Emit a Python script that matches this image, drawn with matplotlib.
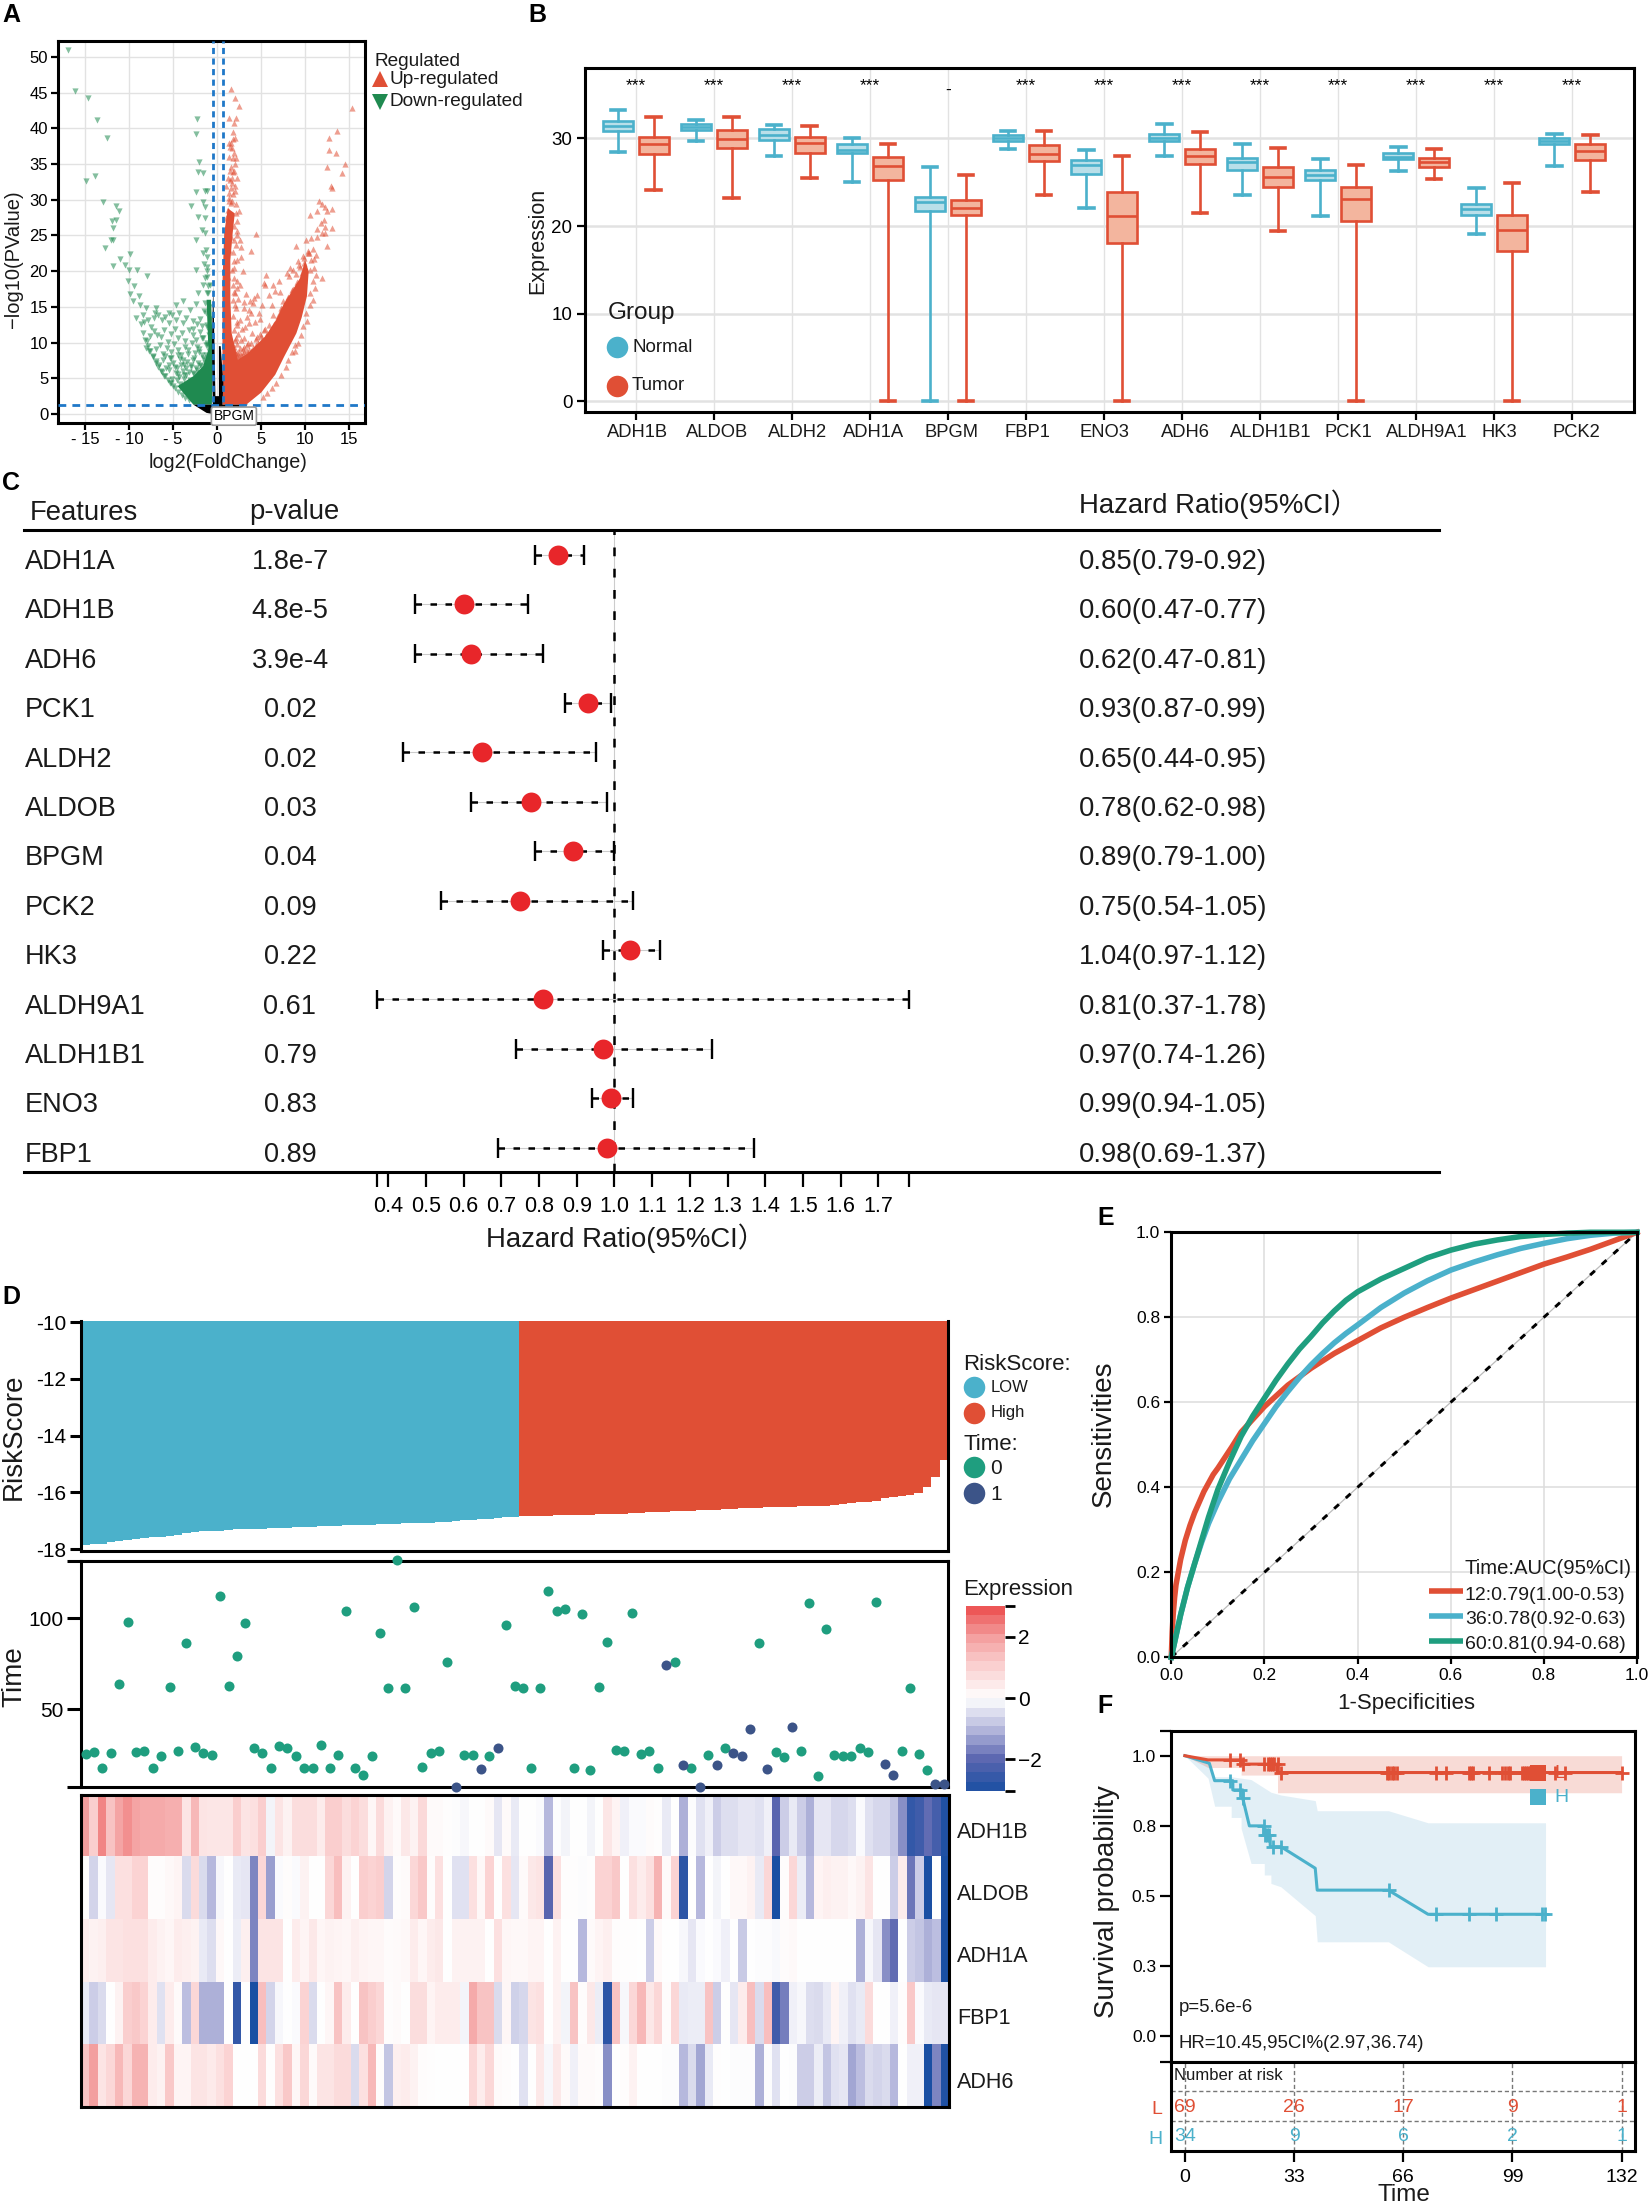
import matplotlib
matplotlib.use("Agg")
import matplotlib.pyplot as plt
import numpy as np
from matplotlib.colors import LinearSegmentedColormap
from matplotlib.lines import Line2D

plt.rcParams["font.family"] = ["Liberation Sans", "Noto Sans CJK SC"]

W, H = 1649, 2204
RED = "#e04f35"
BLUE = "#4bb1cb"
GREEN = "#1f9e7f"
NAVY = "#3c5488"
GRID = "#e2e2e2"

# --- panel A: volcano, single points, dense cores as outlines
up_x = [1.57,2.08,2.47,1.3,2.15,1.9,1.8,1.85,1.6,1.5,1.95,1.4,1.75,2.05,1.6,1.9,1.7,1.45,2.0,1.55,1.8,1.3,1.65,2.1,1.2,2.5,1.0,1.4,1.9,2.3,1.1,1.55,2.55,2.75,3.8,2.75,2.3,1.35,1.9,2.9,1.2,2.2,2.6,
        15.35,13.6,12.7,12.7,13.55,14.5,12.45,14.2,12.9,13.1,11.55,11.95,12.3,13,12.5,10.5,11.3,12.1,11.75,12.3,13,11.3,11.95,12.3,10.1,10.7,11.3,4.4,9,12.5,11.95,5.6,5.3,5.4,4.5,3.7,5.1,8.9,
        3.6,4.1,4.8,5.9,6.2,6.6,7.1,7.5,8.2,8.6,9.2,9.8,10.3,10.9,11.2,10.6,9.7,9.0,8.5,8.1,7.7,7.3,6.9,6.5,6.1,5.7,5.2,4.7,4.2,3.8,3.3,2.9,2.5,2.1,1.8,
        2.2,2.6,3.0,3.4,3.9,4.3,4.9,5.3,2.4,2.8,3.2,3.6,4.0,4.5,5.0,2.0,2.3,2.7,3.1,3.5,4.4,1.9,2.2,2.6,3.0,3.4,1.8,2.1,2.5,2.9,2.0,2.4,3.3,4.2,1.9,2.3,3.1,6.4,7.0,7.9,8.3,9.4,9.9,10.4,11.0]
up_y = [45.5,44.3,43.2,41.5,41.5,40.8,39.5,38.5,38,37.4,36.6,36,35.8,35,34.6,34,33,32.8,32,31.7,30.8,30.2,29.8,29.4,28.6,28.5,27.5,27.2,26.4,25,26,24.8,24.4,23.4,22.8,22,21.5,23,20.5,20,19.2,18.6,18,
        42.9,39.6,38.6,37,36.5,35,34.6,33.7,31.9,31.6,29.8,29.4,29,28.7,28.5,27.9,28.4,27.2,26.7,26.2,26.1,25.9,25.3,25.3,24.4,24.6,24.8,25.2,23.5,23.5,19.1,19.5,18.3,18,16.7,15.8,15.2,8.8,
        14.6,15.5,14.2,16.6,15.2,17.2,17.1,15.8,19.3,20.2,21.4,22.1,22.8,23.1,22.2,20.1,18.8,17.9,17.4,16.2,15.3,14.5,13.7,12.6,11.9,11.2,10.4,9.7,8.9,8.1,7.4,7.1,6.8,6.2,5.8,
        12.4,13.1,14.8,13.6,14.1,12.9,13.3,11.8,11.2,11.9,12.2,12.7,11.4,10.8,10.9,10.4,9.8,10.3,10.6,9.9,9.6,8.9,8.6,9.2,9.4,8.8,7.9,7.4,8.1,8.4,15.2,16.1,16.8,16.2,17.1,17.6,15.7,18.1,18.6,19.8,20.4,20.6,21.1,22.6,21.7]
up_fringe_x = [9.9,10.3,10.7,11,11.2,10.9,11.1,10.6,10.9,10.5,10.1,10.2,9.8,9.5,9.2,8.9,8.5,8.1,7.8,7.2,6.7,6.2,5.7,5.2,
               9.1,8.6,8.0,7.2,6.4,5.9,5.4,4.9,4.4,3.9,3.4,2.9,2.5,2.1,1.9,2.1,1.9,2.2,1.8,2.1,1.8,2.0,1.75,1.9,1.7,1.95,1.8,2.1,1.9,2.2,2.3,2.1,
               1.6,1.3,1.0,1.2,1.5,2.0,1.7,2.2,2.1,1.4,1.7,2.0,1.8,1.35,
               9.6,9.3,9.9,9.0,8.7,8.4,7.5,6.8,6.2,5.6,5.1,4.6,4.1,3.6,3.1,2.7,2.3,2.6,3.0,3.5,3.9,4.4,4.8,5.2,5.6,6.0,6.3,6.8,7.4]
up_fringe_y = [21.8,22.5,21.5,20.5,19.4,18.6,17.6,17,16,15.2,14.2,13,12.3,11,10,9.6,8.7,7.5,6.6,5.4,4.4,3.6,2.9,2.4,
               18.5,17.5,16.4,14.9,13.9,12.4,11.9,11.2,10.5,10,9.6,9.1,8.7,8.4,9.4,10.6,11.8,12.9,13.7,14.9,16,17,18,19.1,20.2,21.4,22.7,23.6,24.4,25.6,27,28.2,
               29.5,31,32,33,34,31.3,32.4,33,35.8,38,37.2,38.6,33.9,29.9,
               19.8,20.9,18.7,19.6,16.3,15.7,14.4,12.8,11.6,10.9,10.3,9.9,9.3,9.0,8.7,8.3,8.0,7.6,7.9,8.4,8.8,9.2,9.5,10.1,10.6,11.1,11.8,12.3,13.1]
up_core_x = [0.6,3.3,5,6.6,7.6,9,9.6,10.2,10.4,10,9.4,8.4,7.6,6.7,5.5,3.5,2.35,1.65,1.5,1.5,1.76,2,1.2,0.8,0.6,0.6]
up_core_y = [1.3,1.3,3,5.5,8,11.3,13.5,16.5,20,21.5,19,17,15.5,13.2,10.9,8.5,7.6,11.3,16,21.6,25.3,28.1,28.8,25.3,18.3,11]

down_x = [-17,-16.2,-14.7,-13.6,-12.5,-13.9,-14.9,-13,-11.5,-11.1,-11.5,-12,-11.8,-12.1,-11.8,-12.7,-9.9,-11,-11.8,-10.5,-10,-9.1,-8,-10.1,-9.5,-9.9,-8.9,-9.6,-8.8,-8.1,-6.9,-8.4,-7.2,-5.5,-4.7,-3.9,-2.35,
          -2.3,-2.4,-2.1,-2.15,-1.6,-2.35,-1.4,-1.2,-1.6,-3,-1.4,-2.15,-1.4,-2.35,-1.76,-1.37,-1.57,-1.2,-1.2,-2.35,-1.2,-1.0,-1.2,-2.15,-1.6,
          -9.2,-8.7,-8.3,-7.9,-7.5,-7.1,-6.7,-6.3,-5.9,-5.5,-5.1,-4.7,-4.3,-3.9,-3.5,-3.1,-2.7,-2.3,-1.9,-1.5,
          -8.4,-8.0,-7.6,-7.2,-6.8,-6.4,-6.0,-5.6,-5.2,-4.8,-4.4,-4.0,-3.6,-3.2,-2.8,-2.4,-2.0,-1.6,-1.2,
          -8.1,-7.7,-7.3,-6.9,-6.5,-6.1,-5.7,-5.3,-4.9,-4.5,-4.1,-3.7,-3.3,-2.9,-2.5,-2.1,-1.7,-1.3,
          -7.0,-6.6,-6.2,-5.8,-5.4,-5.0,-4.6,-4.2,-3.8,-3.4,-3.0,-2.6,-2.2,-1.8,-1.4,
          -6.3,-5.9,-5.5,-5.1,-4.7,-4.3,-3.9,-3.5,-3.1,-2.7,-2.3,-1.9,-1.5,-5.4,-5.0,-4.6,-4.2,-3.8,-3.4,-3.0,-2.6,-2.2,-1.8]
down_y = [51,45.2,44.2,41.2,38.7,33.3,32.7,29.7,29.2,28.5,27.2,27,26,24.4,24.3,23.3,22.4,21.7,20.7,20.9,20.1,20.1,19.3,18.6,17.9,16.8,16.5,15.8,15.3,14.8,14.8,13.9,13.4,14.2,15.3,15.8,15.4,
          41.3,39.2,35.3,33.9,33.7,31.1,31.3,31.3,29.7,29.2,29,27.6,27.5,24.4,25.8,25.3,22.5,22,20.6,20.1,19.2,17.9,16.9,16.9,18.1,
          13.4,12.6,12.9,13.1,12.2,14.1,13.8,13.2,13.6,12.7,13.9,13.1,14.1,12.8,13.4,14.6,13.0,12.6,13.3,14.4,
          11.4,10.2,10.9,11.6,11.1,10.8,11.7,10.1,11.2,11.9,10.6,11.3,10.2,11.8,11.1,10.4,11.5,10.7,12.2,
          9.3,8.8,8.1,9.1,9.6,8.4,9.2,8.7,9.8,9.0,8.3,9.4,8.9,9.9,8.5,9.1,8.2,9.6,
          7.4,6.9,7.6,6.5,7.8,7.1,6.4,7.7,6.8,7.3,6.6,7.9,7.2,6.7,7.5,
          5.9,5.3,6.1,4.9,5.7,5.2,6.0,5.5,4.8,5.8,6.2,5.1,5.6,4.4,3.9,4.7,4.2,4.9,3.8,4.5,4.1,4.6,3.6]
down_fringe_x = [-8.2,-7.9,-7.6,-7.3,-7,-6.7,-6.4,-6,-5.6,-5.2,-4.8,-4.4,-4,-3.6,-3.2,
                 -5.9,-5.2,-4.5,-3.9,-3.3,-2.7,-2.1,-1.6,-5.5,-4.8,-4.1,-3.5,-3,-2.4,-1.9,-1.4,-4.4,-3.8,-3.2,-2.6,-2,-1.5,
                 -0.9,-1.1,-0.8,-1.3,-0.9,-1.4,-1,-0.8,-1.4,-1.1,-1.5,-1.3,-2.8,-2.3,-1.7,-1.2,-1.7,-1.1,-0.9,-1.3,-1.0]
down_fringe_y = [10.3,9.5,8.8,8,7.2,6.6,6,5.3,4.8,4.3,3.6,3.1,2.6,2.2,1.9,
                 8.1,7.8,8.2,7.5,8.4,7.6,8.7,7.9,6.9,6.6,6.9,6.4,6.8,6.5,6.9,7.2,5.6,5.5,5.9,5.6,5.8,5.4,
                 11,12.5,13.3,14.2,15,15.6,17,18,19,20,21,23,11.9,9.4,10.6,10,12.3,9.6,8.8,8.2,7.6]
down_core_x = [-4.5,-2.7,-0.6,-0.5,-0.7,-1.2,-1,-1.6,-2.7]
down_core_y = [3.9,1.3,1.3,9.5,16,16,9,6.7,5.3]

ns_core_x = [-2.7,-1.2,0,1.6,3.5,0.6,0.7,0.4,0.2,0.2,-0.2,-0.3,-0.45,-0.6,-0.5]
ns_core_y = [1.3,0.15,-0.1,0.15,1.3,1.3,4.3,9.5,9.5,2.5,2.5,9.5,18,9.5,1.3]

# --- panel B: boxplot five-number summaries (low, q1, med, q3, high)
genes_b = ["ADH1B","ALDOB","ALDH2","ADH1A","BPGM","FBP1","ENO3","ADH6","ALDH1B1","PCK1","ALDH9A1","HK3","PCK2"]
normal_box = [[28.5,30.8,31.4,32.0,33.2],[29.7,31.0,31.3,31.6,32.1],[28.0,29.8,30.4,31.1,31.5],[25.0,28.3,28.7,29.4,30.1],
              [0,21.7,22.8,23.3,26.7],[28.8,29.7,30.1,30.4,30.8],[22.1,25.9,27.0,27.5,28.7],[28.0,29.7,30.1,30.5,31.6],
              [23.5,26.4,27.3,27.8,29.4],[21.1,25.2,25.8,26.4,27.6],[26.3,27.6,27.9,28.3,29.0],[19.1,21.3,21.9,22.5,24.3],[26.8,29.4,29.7,30.0,30.5]]
tumor_box = [[24.1,28.2,29.4,30.2,32.5],[23.2,28.9,29.9,31.0,32.4],[25.5,28.3,29.5,30.2,31.4],[0,25.3,26.9,27.9,29.4],
             [0,21.3,22.1,23.0,25.8],[23.5,27.4,28.2,29.2,30.8],[0,18.1,21.2,23.9,28.0],[21.5,27.1,28.0,28.8,30.7],
             [19.4,24.4,25.6,26.7,28.9],[0,20.6,23.1,24.4,27.0],[25.4,26.7,27.3,27.8,28.8],[0,17.2,19.5,21.3,24.9],[23.9,27.5,28.6,29.4,30.4]]
signif = ["***","***","***","***","-","***","***","***","***","***","***","***","***"]
label_nudge = [0.02,0.04,0.07,0.04,0.05,0.02,0,0.04,0.14,0.13,0.14,0.07,0.05]

# --- panel C: Cox forest
features = ["ADH1A","ADH1B","ADH6","PCK1","ALDH2","ALDOB","BPGM","PCK2","HK3","ALDH9A1","ALDH1B1","ENO3","FBP1"]
pvalues = ["1.8e-7","4.8e-5","3.9e-4","0.02","0.02","0.03","0.04","0.09","0.22","0.61","0.79","0.83","0.89"]
hr = [0.85,0.60,0.62,0.93,0.65,0.78,0.89,0.75,1.04,0.81,0.97,0.99,0.98]
hr_low = [0.79,0.47,0.47,0.87,0.44,0.62,0.79,0.54,0.97,0.37,0.74,0.94,0.69]
hr_high = [0.92,0.77,0.81,0.99,0.95,0.98,1.00,1.05,1.12,1.78,1.26,1.05,1.37]
hr_ticks = [0.37,0.4,0.5,0.6,0.7,0.8,0.9,1.0,1.1,1.2,1.3,1.4,1.5,1.6,1.7,1.78]
hr_ticklabels = ["","0.4","0.5","0.6","0.7","0.8","0.9","1.0","1.1","1.2","1.3","1.4","1.5","1.6","1.7",""]

# --- panel D: risk score, survival time, status, expression
risk_low = [-17.85,-17.83,-17.80,-17.73,-17.70,-17.66,-17.63,-17.60,-17.58,-17.55,-17.52,-17.50,-17.43,-17.38,-17.36,-17.35,-17.34,-17.32,-17.30,-17.29,
            -17.28,-17.27,-17.26,-17.25,-17.24,-17.23,-17.21,-17.20,-17.19,-17.18,-17.17,-17.16,-17.15,-17.14,-17.13,-17.12,-17.11,-17.10,-17.09,-17.08,
            -17.07,-17.06,-17.05,-17.03,-17.01,-16.98,-16.96,-16.94,-16.92,-16.90,-16.88,-16.86]
risk_high = [-16.84,-16.83,-16.83,-16.82,-16.81,-16.81,-16.80,-16.79,-16.78,-16.76,-16.75,-16.75,-16.74,-16.73,-16.72,-16.70,-16.69,-16.67,-16.66,-16.65,
             -16.64,-16.63,-16.62,-16.60,-16.59,-16.57,-16.55,-16.54,-16.53,-16.52,-16.51,-16.50,-16.50,-16.49,-16.48,-16.47,-16.46,-16.43,-16.41,-16.38,
             -16.35,-16.32,-16.30,-16.20,-16.16,-16.13,-16.10,-16.03,-15.82,-15.46,-14.87]
surv_time = [25.5,26.4,17.4,25.6,63.6,98,26.6,27.1,17.6,24.4,62,26.7,86,28.9,25.6,24.5,112,62.6,79,97,
             28.8,25.6,17.4,29.5,28.4,24.4,17.8,17.8,30,17.8,24.7,104,17.4,13.6,24.4,92,61.4,132,61.5,106,
             18,25.8,26.7,76,7,24.5,24.7,17,24.4,28.8,96,62.5,61.7,17.6,61.7,115,104,105,17.8,102,
             16.7,62,87,27.5,26.7,103,25.5,26.7,17.6,74,76,19,17.8,7,24.5,19,28.8,26,24,39,
             86,17,26.6,23.8,40,26.7,108,13.4,94,24.5,24.4,24.4,28.8,26.6,109,20,14,26.8,61.5,25,16.5,9,9]
surv_status = [0,0,0,0,0,0,0,0,0,0,0,0,0,0,0,0,0,0,0,0,
               0,0,0,0,0,0,0,0,0,0,0,0,0,0,0,0,0,0,0,0,
               0,0,0,0,1,0,0,1,0,1,0,0,0,0,0,0,0,0,0,0,
               0,0,0,0,0,0,0,0,0,1,0,1,0,1,0,1,0,1,1,1,
               0,1,0,0,1,0,0,0,0,0,0,0,0,0,0,1,1,0,0,0,0,1,1]

heat_genes = ["ADH1B","ALDOB","ADH1A","FBP1","ADH6"]
adh1b = [2.0,1.1,2.3,1.3,1.9,2.2,1.9,1.8,1.8,1.8,1.7,1.7,
         0.6,1.5,0.6,0.55,0.55,0.55,1.1,0.6,0.7,1.1,
         -0.15,0.6,0.3,0.75,0.75,0.75,0.4,1.1,1.1,0.75,
         1.0,0.75,0.2,0.8,0.3,0.1,0.5,0.3,0.85,0.1,
         0.1,0.03,-0.03,-0.1,0,0,0.1,-0.35,0.1,-0.3,
         0,0,-0.05,-1.0,-0.03,-0.15,0,0,-0.15,0,
         0.55,0.25,-0.2,-0.07,-0.05,0.08,0.04,-0.3,0,-1.1,
         -0.03,-0.4,-0.2,-0.7,-0.45,-0.45,-0.35,-0.35,-0.4,-0.2,
         -2.0,-0.7,-0.3,-0.7,-1.1,-0.35,-0.35,-0.55,-0.55,-0.45,
         -0.05,-0.4,-0.55,-0.55,-0.8,-1.5,-2.6,-2.4,-1.9,-2.3,-2.9]
aldob = [0.05,-0.6,-0.05,-0.35,0.7,0.7,1.0,1.0,0.05,0.05,0.15,0.25,
         -0.5,0.8,-0.5,-1.0,-0.1,0,-0.3,-0.35,-1.6,0.9,
         -1.3,-0.05,0.05,-0.05,0.3,0,0,0.9,1.4,0.3,
         0,1.1,1.0,1.1,-0.6,0.05,0.1,0.9,1.2,0.05,
         0.7,0,-0.4,-0.4,0.7,0.15,1.0,0,0.7,-0.35,
         0.1,0.5,0.6,-2.0,0.7,0.03,0.03,-0.03,0.03,1.0,
         1.0,1.2,0,0.7,0.4,0.7,1.6,0.1,1.0,-2.7,
         0,-1.0,0,-0.15,0,0.15,0.15,0.3,-0.3,0.9,
         -3,0.05,0.9,-0.25,-1.0,0.25,0.35,0.3,0.3,0.15,
         0.3,0.6,0,0,-0.7,0.4,-1.8,-0.7,-3,0,-3]
adh1a = [0.4,0.3,0.35,0.6,0.6,0.7,0.7,0.7,0.4,0.3,0.2,0.4,
         0.35,0.3,-0.3,-0.45,0.15,0,-0.25,0.35,-1.6,0.6,
         0.6,0.6,0,0.4,0.25,0.5,0.2,0.3,0.25,0.2,
         0.35,0.25,0.2,0.2,0.08,0.1,0.15,0.4,0.2,0.4,
         0.5,0.02,0.3,0.3,0.3,0.3,0,0.7,0.2,0.15,
         0.15,0.25,0.25,0,0.3,0,0,-1.0,0.1,0.25,
         0.35,0.05,0.03,0.03,0.02,-0.7,0.12,0,0,-0.1,
         -0.35,-0.05,0,-0.05,-0.2,-0.02,-0.75,0,-0.03,-0.03,
         -0.08,0.08,0.12,0,0,0,0,0.02,0,-0.02,
         -1.1,-0.1,-0.35,-1.5,-1.9,0,-0.7,-0.8,-1.1,-0.9,-3]
fbp1 = [-0.3,-0.7,-0.5,0,0.3,1.1,1.2,1.0,0.4,-0.4,0.4,0.1,
        -0.9,0.9,-1.1,-1.1,-1.1,0,-2.6,0,-3,1.4,
        -0.6,-0.1,0,-0.05,1.0,-0.5,0,0.2,1.3,0.4,
        0,1.3,1.1,0.9,0.05,0.1,0,0.75,0.75,0.25,
        0.4,0.4,0.4,-0.15,1.8,1.3,1.3,-0.5,0.2,-0.65,
        -0.55,0.6,0.7,0,0.3,-0.15,1.3,0.05,0.5,-0.25,
        -2.7,1.3,-0.1,0.9,1.5,0.5,0.9,0.05,0.9,-0.3,
        -0.25,-0.25,1.3,-0.7,0,-0.35,0.4,1.4,-0.5,1.4,
        -2.4,-1.7,-0.2,-0.1,-0.45,-0.5,-0.3,0.25,-0.2,-0.4,
        -0.3,0.8,0,0,-0.2,0.05,1.2,-0.05,-0.3,-0.35,-0.35]
adh6 = [1.3,2.0,0.6,0.9,1.5,0.9,1.6,1.6,0.4,0.3,1.2,0.25,
        0.25,0.6,0.6,0.45,0.7,1.0,0,0,0,0.8,
        0.03,0.7,1.2,0.2,0.9,0.1,0.6,0.6,0.8,0.8,
        -0.5,0.7,1.5,0.05,-0.8,0.35,0.4,0.3,0.05,0.03,
        0.02,0.02,0.02,0,0.9,0.4,0.9,0.1,0.05,0,
        -0.4,0,0.5,-0.1,0.5,0.1,-0.2,0.1,0.1,0.05,
        -1.5,0,0.05,0.3,0.02,0.01,0,-0.03,-0.03,-1.0,
        -0.5,-1.2,-0.3,0.03,0,-0.03,-0.03,-0.03,-1.1,-0.03,
        -0.4,0,-0.03,-0.7,-0.7,-0.25,-0.8,-0.4,-0.35,-1.2,
        -0.9,-0.5,-0.6,-0.5,-1.0,0,-0.2,-0.2,-3,-1.6,-2.9]
cbar_levels = [2.85,2.55,2.25,1.95,1.65,1.35,1.05,0.75,0.45,0.15,-0.15,-0.45,-0.75,-1.05,-1.35,-1.65,-1.95,-2.25,-2.55,-2.85]

# --- panel E: time dependent ROC
roc12_x = [0,0.002,0.004,0.007,0.01,0.015,0.02,0.03,0.04,0.05,0.06,0.07,0.08,0.09,0.1,0.115,0.13,0.15,0.175,0.2,0.225,0.25,0.275,0.3,0.35,0.4,0.45,0.5,0.55,0.6,0.65,0.7,0.75,0.8,0.85,0.9,0.95,1]
roc12_y = [0,0.06,0.1,0.14,0.17,0.2,0.23,0.275,0.31,0.34,0.365,0.39,0.41,0.43,0.445,0.47,0.495,0.53,0.56,0.59,0.615,0.64,0.66,0.68,0.715,0.745,0.775,0.80,0.823,0.845,0.865,0.885,0.905,0.925,0.942,0.96,0.98,1]
roc36_x = [0,0.01,0.02,0.035,0.05,0.065,0.08,0.1,0.125,0.15,0.175,0.2,0.225,0.25,0.275,0.3,0.325,0.35,0.375,0.4,0.45,0.5,0.55,0.6,0.65,0.7,0.75,0.8,0.85,0.9,0.95,1]
roc36_y = [0,0.05,0.1,0.165,0.22,0.27,0.315,0.365,0.42,0.465,0.51,0.55,0.59,0.625,0.658,0.688,0.715,0.74,0.762,0.782,0.823,0.857,0.886,0.911,0.93,0.947,0.962,0.974,0.985,0.993,0.998,1]
roc60_x = [0,0.01,0.02,0.035,0.05,0.065,0.08,0.1,0.125,0.15,0.175,0.2,0.225,0.25,0.275,0.3,0.325,0.35,0.375,0.4,0.45,0.5,0.55,0.6,0.65,0.7,0.75,0.8,0.85,0.9,1]
roc60_y = [0,0.05,0.1,0.165,0.22,0.275,0.33,0.395,0.46,0.52,0.568,0.61,0.652,0.69,0.725,0.755,0.787,0.815,0.84,0.86,0.89,0.915,0.94,0.958,0.972,0.982,0.99,0.995,0.998,1,1]
roc_labels = ["12:0.79(1.00-0.53)","36:0.78(0.92-0.63)","60:0.81(0.94-0.68)"]

# --- panel F: Kaplan-Meier
low_t = [0,7,7,17,17,28,28,132]
low_s = [1,0.985,0.985,0.985,0.97,0.97,0.94,0.94]
low_band_t = [0,7,17,17,28,28,132]
low_band_lo = [1,0.958,0.958,0.931,0.931,0.868,0.868]
low_band_hi = [1,1,1,1,1,1,1]
low_cens_t = [13.6,16.6,17.7,24,25,25.6,26.3,27,28,29,61,61.8,62.6,63.2,64,75.9,79,86,86.6,87.2,92,96,96.8,97.6,98.2,102,102.6,103.2,103.8,104.4,112,115,132]
low_cens_s = [0.985,0.985,0.97,0.97,0.97,0.97,0.97,0.97,0.97,0.94,0.94,0.94,0.94,0.94,0.94,0.94,0.94,0.94,0.94,0.94,0.94,0.94,0.94,0.94,0.94,0.94,0.94,0.94,0.94,0.94,0.94,0.94,0.94]
high_t = [0,7.4,9,14.5,14.5,17.5,17.5,19.5,23.8,23.8,25.8,25.8,29,39.4,40,61.5,73.5,109]
high_s = [1,0.973,0.911,0.911,0.878,0.878,0.848,0.75,0.75,0.717,0.717,0.676,0.676,0.599,0.521,0.521,0.435,0.435]
high_band_t = [0,7,9,14,14,17,17,20,24,24,26,26,29,39.4,40,61.5,73.5,109]
high_band_lo = [1,0.92,0.82,0.82,0.78,0.78,0.741,0.616,0.616,0.575,0.575,0.545,0.533,0.43,0.337,0.337,0.248,0.248]
high_band_hi = [1,0.98,0.925,0.925,0.925,0.92,0.92,0.915,0.885,0.885,0.87,0.87,0.86,0.84,0.804,0.804,0.761,0.761]
high_cens_t = [13.6,16.6,17.7,23.8,24.2,24.8,25.4,26.6,29,61.6,75.9,85.9,94,108,108.7]
high_cens_s = [0.911,0.878,0.848,0.75,0.717,0.717,0.717,0.676,0.676,0.521,0.435,0.435,0.435,0.435,0.435]
risk_times = [0,33,66,99,132]
at_risk_low = [69,26,17,9,1]
at_risk_high = [34,9,6,2,1]


fig = plt.figure(figsize=(W / 100, H / 100), dpi=100, facecolor="white")


def add_ax(left, top, right, bottom):
    return fig.add_axes([left / W, 1 - bottom / H, (right - left) / W, (bottom - top) / H])


def ftext(x, y, s, **kw):
    kw.setdefault("va", "center")
    kw.setdefault("color", "#1a1a1a")
    return fig.text(x / W, 1 - y / H, s, **kw)


def dot(x, y, color, size=15.5, marker="o"):
    fig.add_artist(Line2D([x / W], [1 - y / H], marker=marker, ms=size, color=color, mew=0,
                          linestyle="none", transform=fig.transFigure))


def frame(ax, lw=2.2):
    for s in ax.spines.values():
        s.set_linewidth(lw)


for letter, x, y in [("A", 2, 15), ("B", 528, 15), ("C", 2, 483), ("D", 2, 1297), ("E", 1097, 1218), ("F", 1097, 1706)]:
    ftext(x, y, letter, fontsize=18, fontweight="bold", color="black")

# ---------- A
ax = add_ax(57.9, 41.3, 365, 422.7)
frame(ax)
ax.set_xlim(-18.1, 16.8)
ax.set_ylim(-1.22, 52.2)
ax.set_xticks([-15, -10, -5, 0, 5, 10, 15], ["- 15", "- 10", "- 5", "0", "5", "10", "15"])
ax.set_yticks(range(0, 51, 5))
ax.tick_params(labelsize=12, width=1.6, length=5, pad=2)
ax.grid(color=GRID, lw=1)
ax.set_axisbelow(True)
ax.fill(up_core_x, up_core_y, color=RED, lw=0, zorder=2)
ax.fill(down_core_x, down_core_y, color="#1f8a50", lw=0, zorder=2)
ax.scatter(up_x + up_fringe_x, up_y + up_fringe_y, marker="^", s=20, color=RED, alpha=0.55, lw=0, zorder=2)
ax.scatter(down_x + down_fringe_x, down_y + down_fringe_y, marker="v", s=20, color="#1f8a50", alpha=0.55, lw=0, zorder=2)
ax.fill(ns_core_x, ns_core_y, color="black", lw=0, zorder=3)
for xv in (-0.51, 0.66):
    ax.axvline(xv, color="#1f78c8", lw=2, ls=(0, (2.2, 1.6)), zorder=4)
ax.axhline(1.3, color="#1f78c8", lw=2, ls=(0, (2.8, 2.2)), zorder=4)
ax.text(1.9, -0.3, "BPGM", fontsize=10, ha="center", va="center", zorder=5,
        bbox=dict(boxstyle="round,pad=0.15", fc="white", ec="#999999", lw=1.2))
ftext(14, 259, "\u2212log10(PValue)", fontsize=14.5, rotation=90, ha="center")
ftext(228, 463, "log2(FoldChange)", fontsize=14.2, ha="center")
ftext(375, 61, "Regulated", fontsize=13.7)
ftext(390, 80, "Up-regulated", fontsize=13.7)
ftext(390, 101, "Down-regulated", fontsize=13.7)
dot(380, 79, RED, 11, "^")
dot(380, 102, "#1f8a50", 11, "v")

# ---------- B
ax = add_ax(584.8, 68.3, 1633.8, 412.3)
frame(ax)
ax.set_xlim(-0.655, 12.79)
ax.set_ylim(-1.25, 38)
ax.set_yticks([0, 10, 20, 30])
ax.set_xticks(range(13), [""] * 13)
ax.tick_params(labelsize=13.5, width=1.6, length=6, pad=3)
ax.grid(color=GRID, lw=1)
ax.yaxis.grid(lw=1.8)
ax.set_axisbelow(True)
for boxes, off, edge, fill in [(normal_box, -0.23, BLUE, "#b9dfe9"), (tumor_box, 0.23, RED, "#f3b59e")]:
    stats = [dict(whislo=b[0], q1=b[1], med=b[2], q3=b[3], whishi=b[4]) for b in boxes]
    ax.bxp(stats, positions=np.arange(13) + off, widths=0.385, showfliers=False, patch_artist=True,
           manage_ticks=False,
           boxprops=dict(facecolor=fill, edgecolor=edge, lw=1.9),
           medianprops=dict(color=edge, lw=1.9),
           whiskerprops=dict(color=edge, lw=1.9),
           capprops=dict(color=edge, lw=2.6), capwidths=0.19)
for i, (g, mark) in enumerate(zip(genes_b, signif)):
    ax.text(i, 36.0 if mark != "-" else 35.5, mark, ha="center", va="center", fontsize=12.5)
    ax.text(i + label_nudge[i], -3.6, g, ha="center", va="center", fontsize=13.2, clip_on=False, color="#1a1a1a")
ftext(538, 241, "Expression", fontsize=15.5, rotation=90, ha="center")
ftext(608, 313, "Group", fontsize=17.5)
ftext(632, 347, "Normal", fontsize=13.5)
ftext(632, 386, "Tumor", fontsize=13.5)
dot(617, 347, BLUE)
dot(617, 386, RED)

# ---------- C
ax = add_ax(24, 529.5, 1439, 1172.4)
ax.set_xlim(-0.566, 3.187)
ax.set_ylim(12.5, -0.51)
ax.patch.set_alpha(0)
for name in ("left", "right"):
    ax.spines[name].set_visible(False)
ax.spines["top"].set_linewidth(2.2)
ax.spines["bottom"].set_linewidth(2.2)
ax.set_yticks([])
ax.set_xticks(hr_ticks, hr_ticklabels)
ax.tick_params(axis="x", labelsize=15.5, width=1.6, length=11, pad=6)
ax.axvline(1.0, color="#cccccc", lw=0.8, zorder=1)
ax.axvline(1.0, color="black", lw=1.8, ls=(0, (3.5, 5)), zorder=1)
rows = np.arange(len(features))
ax.hlines(rows, hr_low, hr_high, color="#cccccc", lw=0.8, zorder=1)
ax.hlines(rows, hr_low, hr_high, color="black", lw=1.8, linestyles=[(0, (2.6, 3.4))], zorder=2)
ax.vlines(hr_low, rows - 0.2, rows + 0.2, color="black", lw=1.7, zorder=2)
ax.vlines(hr_high, rows - 0.2, rows + 0.2, color="black", lw=1.7, zorder=2)
ax.scatter(hr, rows, s=205, color="#e8262a", lw=0, zorder=3)
for i in rows:
    y = 562 + 49.4 * i
    ftext(24.5, y, features[i], fontsize=19.5)
    ftext(290, y, pvalues[i], fontsize=19.5, ha="center")
    ftext(1079, y, f"{hr[i]:.2f}({hr_low[i]:.2f}-{hr_high[i]:.2f})", fontsize=19.8)
ftext(30, 513, "Features", fontsize=19.8)
ftext(294, 512, "p-value", fontsize=19.8, ha="center")
ftext(1079, 504, "Hazard Ratio(95%CI）", fontsize=19.8)
ftext(626, 1238, "Hazard Ratio(95%CI）", fontsize=19.8, ha="center")

# ---------- D
n = len(risk_low) + len(risk_high)
idx = np.arange(n)
ax = add_ax(81.3, 1320.7, 948, 1550.7)
risk = np.array(risk_low + risk_high)
ax.bar(idx[:len(risk_low)], risk[:len(risk_low)] + 9.9, bottom=-9.9, width=1.02, color=BLUE, lw=0)
ax.bar(idx[len(risk_low):], risk[len(risk_low):] + 9.9, bottom=-9.9, width=1.02, color=RED, lw=0)
ax.set_xlim(-0.5, n - 0.5)
ax.set_ylim(-18.05, -9.95)
ax.set_xticks([])
ax.set_yticks([-18, -16, -14, -12, -10], ["-18", "-16", "-14", "-12", "-10"])
ax.tick_params(labelsize=15, width=2.2, length=8, pad=3)
ax.spines["top"].set_visible(False)
for name in ("left", "right", "bottom"):
    ax.spines[name].set_linewidth(2.2)
ftext(14, 1437, "RiskScore", fontsize=20, rotation=90, ha="center")

ax = add_ax(81.3, 1560.7, 948, 1786.7)
frame(ax)
ax.set_xlim(-0.5, n - 0.5)
ax.set_ylim(7.3, 131.5)
ax.set_xticks([])
ax.set_yticks([7.3, 50, 100, 131.5], ["", "50", "100", ""])
ax.tick_params(labelsize=15, width=2.2, length=10, pad=3)
status = np.array(surv_status)
time_vals = np.array(surv_time)
ax.scatter(idx[status == 0], time_vals[status == 0], s=52, color=GREEN, lw=0, clip_on=False, zorder=5)
ax.scatter(idx[status == 1], time_vals[status == 1], s=52, color=NAVY, lw=0, clip_on=False, zorder=5)
ftext(14, 1677, "Time", fontsize=20, rotation=90, ha="center")

cmap = LinearSegmentedColormap.from_list(
    "expr",
    [(0.0, "#1a4fa3"), (1 / 6, "#5a66b0"), (2 / 6, "#b6b8dd"), (0.5, "#ffffff"),
     (4 / 6, "#fbd3d3"), (5 / 6, "#f4a0a0"), (1.0, "#ec4c4c")],
)
ax = add_ax(81.2, 1794.7, 948.6, 2107.3)
frame(ax)
ax.imshow(np.array([adh1b, aldob, adh1a, fbp1, adh6]), aspect="auto", cmap=cmap, vmin=-3, vmax=3,
          interpolation="nearest")
ax.set_xticks([])
ax.set_yticks([])
for g, y in zip(heat_genes, [1832, 1894, 1956, 2018, 2082]):
    ftext(957, y, g, fontsize=15.5)

ax = add_ax(966, 1606, 1004.5, 1791)
ax.imshow(np.array(cbar_levels).reshape(-1, 1), aspect="auto", cmap=cmap, vmin=-3, vmax=3,
          extent=[0, 1, -3.03, 3.0], interpolation="nearest")
for s in ax.spines.values():
    s.set_visible(False)
ax.set_xticks([])
ax.yaxis.tick_right()
ax.set_yticks([-3.03, -2, 0, 2, 3.0], ["", "\u22122", "0", "2", ""])
ax.tick_params(labelsize=15, width=2, length=7, pad=3)

ftext(963.5, 1364, "RiskScore:", fontsize=16)
dot(974, 1387, BLUE)
ftext(990.5, 1387, "LOW", fontsize=12)
dot(974, 1413, RED)
ftext(990.5, 1413, "High", fontsize=12)
ftext(963.5, 1445, "Time:", fontsize=16)
dot(974, 1467, GREEN)
ftext(990.5, 1469, "0", fontsize=15)
dot(974, 1493, NAVY)
ftext(990.5, 1495, "1", fontsize=15)
ftext(963.5, 1589, "Expression", fontsize=16)

# ---------- E
ax = add_ax(1171.3, 1232.3, 1637, 1657.3)
frame(ax)
ax.set_xlim(0, 1)
ax.set_ylim(0, 1)
ax.set_xticks(np.arange(0, 1.01, 0.2))
ax.set_yticks(np.arange(0, 1.01, 0.2))
ax.tick_params(labelsize=12.5, width=1.6, length=5, pad=3)
ax.grid(color="#dddddd", lw=1.1)
ax.set_axisbelow(True)
ax.plot([0, 1], [0, 1], color="#bbbbbb", lw=0.9)
ax.plot([0, 1], [0, 1], color="black", lw=2.1, ls=(0, (2.2, 3.2)))
ax.plot(roc12_x, roc12_y, color=RED, lw=4, clip_on=False, solid_joinstyle="round")
ax.plot(roc36_x, roc36_y, color=BLUE, lw=4, clip_on=False, solid_joinstyle="round")
ax.plot(roc60_x, roc60_y, color=GREEN, lw=4, clip_on=False, solid_joinstyle="round")
ftext(1104, 1434, "Sensitivities", fontsize=20, rotation=90, ha="center")
ftext(1406, 1703, "1-Specificities", fontsize=16, ha="center")
ftext(1465, 1568, "Time:AUC(95%CI)", fontsize=14.6)
for lab, col, y in zip(roc_labels, [RED, BLUE, GREEN], [1595, 1619.5, 1644.5]):
    ftext(1465, y, lab, fontsize=14)
    fig.add_artist(Line2D([1428.7 / W, 1463 / W], [1 - (y - 4) / H] * 2, color=col, lw=4,
                          solid_capstyle="butt", transform=fig.transFigure))

# ---------- F
ax = add_ax(1171.3, 1730.7, 1635.5, 2061.7)
frame(ax)
ax.set_xlim(-4.1, 136.2)
ax.set_ylim((979 - 1055) / 842, (979 - 62) / 842)
lo, hi = ax.get_ylim()
ax.set_xticks([])
ax.set_yticks([lo, 0, 0.25, 0.5, 0.75, 1, hi], ["", "0.0", "0.3", "0.5", "0.8", "1.0", ""])
ax.tick_params(labelsize=12.5, width=1.6, length=8, pad=3)
ax.fill_between(high_band_t, high_band_lo, high_band_hi, color="#cfe5f1", alpha=0.6, lw=0)
ax.fill_between(low_band_t, low_band_lo, low_band_hi, color=RED, alpha=0.2, lw=0)
ax.plot(high_t, high_s, color=BLUE, lw=2.2)
ax.plot(low_t, low_s, color=RED, lw=2.2)
ax.plot(high_cens_t, high_cens_s, "+", color=BLUE, ms=10, mew=2)
ax.plot(low_cens_t, low_cens_s, "+", color=RED, ms=10, mew=2)
dot(1538.5, 1773, RED, 11, "s")
dot(1538.5, 1797, BLUE, 11, "s")
ftext(1554, 1773, "L", fontsize=14, color=RED)
ftext(1554, 1797, "H", fontsize=14, color=BLUE)
ftext(1178.4, 2008, "p=5.6e-6", fontsize=13.4)
ftext(1178.4, 2043, "HR=10.45,95CI%(2.97,36.74)", fontsize=13.4)
ftext(1107, 1902, "Survival probability", fontsize=20, rotation=90, ha="center")

ax = add_ax(1171.3, 2061.7, 1635.5, 2150.7)
frame(ax)
ax.set_xlim(-4.1, 136.2)
ax.set_ylim(3, 0)
ax.set_xticks(risk_times)
ax.set_yticks([])
ax.tick_params(labelsize=14, width=1.6, length=8, pad=5)
for t in risk_times:
    ax.axvline(t, color="#777777", lw=1, ls=(0, (3, 2)))
for yv in (1, 2):
    ax.axhline(yv, color="#777777", lw=1, ls=(0, (3, 2)))
for t, a, b in zip(risk_times, at_risk_low, at_risk_high):
    ax.text(t, 1.53, str(a), color=RED, fontsize=14, ha="center", va="center")
    ax.text(t, 2.53, str(b), color=BLUE, fontsize=14, ha="center", va="center")
ftext(1174, 2076, "Number at risk", fontsize=12)
ftext(1162, 2109, "L", fontsize=14, color=RED, ha="right")
ftext(1162, 2139, "H", fontsize=14, color=BLUE, ha="right")
ftext(1404, 2195, "Time", fontsize=17.5, ha="center")

fig.savefig("out.png", dpi=100)
